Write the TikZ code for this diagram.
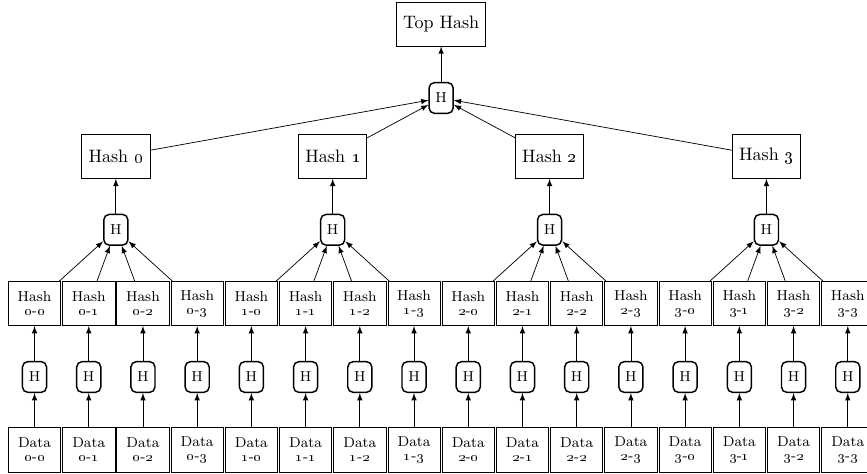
\documentclass[tikz,border=0pt]{standalone}
\begin{document}
\begin{tikzpicture}[>=latex]
    % --- ESTILOS ---
    \tikzset{hashbox/.style={draw, thin, rectangle, inner sep=1pt, align=center, minimum height=0.86cm}}
    \tikzset{leafbox/.style={hashbox, font=\footnotesize, minimum width=1.02cm}}
    \tikzset{hfunc/.style={draw, thick, rounded corners=3pt, font=\footnotesize, minimum width=0.47cm, minimum height=0.6cm, inner sep=0pt}}

    % Márgenes de la figura
    \useasboundingbox (-0.673,-0.458) rectangle (16.23,8.77);

    % --- RAÍZ ---
    \node[hfunc] (Htop) at (7.9275, 6.86) {H};
    \node[hashbox, minimum width=1.74cm] (Top) at (7.9275, 8.30) {Top Hash};
    \draw[->] (Htop) -- (Top);

    % --- HOJAS (Data -> H -> Hash) ---
    \foreach \i in {0,...,3} {
        \foreach \j in {0,...,3} {
            \pgfmathsetmacro{\x}{1.057*(4*\i+\j)}
            \node[leafbox] (Data\i\j) at (\x, 0) {Data\\[-2pt]\oldstylenums{\i}-\oldstylenums{\j}};
            \node[hfunc] (H\i\j) at (\x, 1.42) {H};
            \node[leafbox] (Hash\i\j) at (\x, 2.85) {Hash\\[-2pt]\oldstylenums{\i}-\oldstylenums{\j}};
            \draw[->] (Data\i\j) -- (H\i\j);
            \draw[->] (H\i\j) -- (Hash\i\j);
        }
    }

    % --- NIVEL INTERMEDIO (Hash 0 ... Hash 3) ---
    \foreach \i in {0,...,3} {
        \pgfmathsetmacro{\xg}{1.057*(4*\i+1.5)}
        \node[hfunc] (H\i) at (\xg, 4.29) {H};
        \node[hashbox, minimum width=1.33cm] (Hash\i) at (\xg, 5.72) {Hash \oldstylenums{\i}};
        \draw[->] (H\i) -- (Hash\i);
        \foreach \j in {0,...,3} {
            \draw[->] (Hash\i\j) -- (H\i);
        }
        \draw[->] (Hash\i) -- (Htop);
    }
\end{tikzpicture}
\end{document}
